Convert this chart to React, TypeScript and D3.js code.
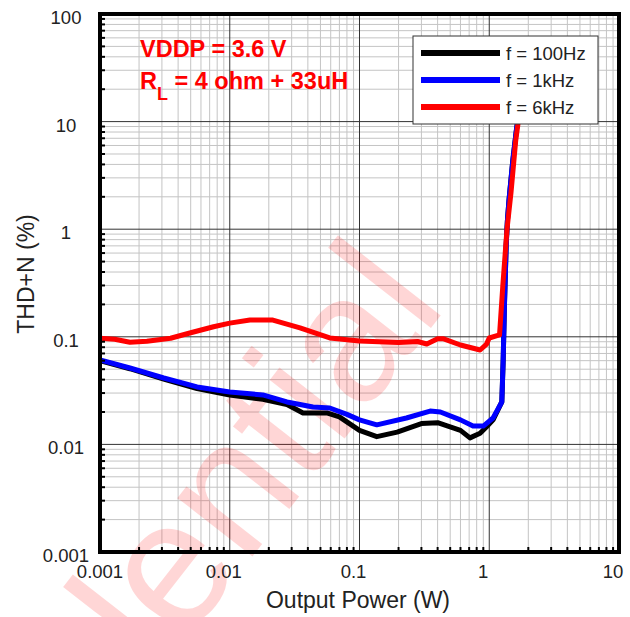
import React from 'react';
import * as d3 from 'd3';

const xTicks = [0.001, 0.01, 0.1, 1, 10];
const xTickLabels = ['0.001', '0.01', '0.1', '1', '10'];
const yTicks = [0.001, 0.01, 0.1, 1, 10, 100];
const yTickLabels = ['0.001', '0.01', '0.1', '1', '10', '100'];

const power100Hz = [0.001, 0.0017, 0.0031, 0.0056, 0.01, 0.018, 0.0276, 0.0367, 0.056, 0.07, 0.1, 0.136, 0.195, 0.3, 0.4, 0.6, 0.71, 0.85, 0.95, 1.07, 1.25, 1.28, 1.31, 1.35, 1.38, 1.42, 1.52, 1.62, 1.72, 1.85];
const thd100Hz = [0.06, 0.0505, 0.0405, 0.033, 0.0288, 0.0262, 0.0235, 0.0196, 0.0196, 0.018, 0.0135, 0.0118, 0.013, 0.0156, 0.0159, 0.0135, 0.0115, 0.0127, 0.0145, 0.0169, 0.0248, 0.06, 0.2, 0.7, 1.2, 1.87, 4.4, 8.4, 14, 25];

const power1kHz = [0.001, 0.0017, 0.0031, 0.0056, 0.01, 0.018, 0.0276, 0.0438, 0.059, 0.08, 0.1, 0.136, 0.23, 0.35, 0.42, 0.6, 0.75, 0.9, 1.07, 1.25, 1.28, 1.31, 1.35, 1.38, 1.42, 1.52, 1.62, 1.72, 1.85];
const thd1kHz = [0.061, 0.0513, 0.0414, 0.0342, 0.0307, 0.0288, 0.0248, 0.0223, 0.0218, 0.019, 0.0169, 0.0152, 0.0176, 0.0204, 0.02, 0.0169, 0.0148, 0.0148, 0.0176, 0.0248, 0.06, 0.2, 0.7, 1.2, 1.87, 4.4, 8.4, 14, 25];

const power6kHz = [0.001, 0.0013, 0.0017, 0.0023, 0.0035, 0.005, 0.0075, 0.01, 0.0143, 0.0215, 0.0348, 0.059, 0.1, 0.2, 0.28, 0.33, 0.4, 0.44, 0.6, 0.85, 0.95, 1.0, 1.2, 1.27, 1.37, 1.47, 1.6, 1.7, 1.85];
const thd6kHz = [0.097, 0.095, 0.089, 0.091, 0.097, 0.109, 0.124, 0.134, 0.143, 0.143, 0.121, 0.0975, 0.0914, 0.0885, 0.0905, 0.0857, 0.096, 0.096, 0.0839, 0.0754, 0.085, 0.0975, 0.104, 0.29, 1.0, 2.17, 6.7, 11.5, 25];

const seriesLabels = ['f = 100Hz', 'f = 1kHz', 'f = 6kHz'];
const seriesColors = ['#000000', '#0000ff', '#ff0000'];
const seriesPower = [power100Hz, power1kHz, power6kHz];
const seriesThd = [thd100Hz, thd1kHz, thd6kHz];

const W = 630, H = 617;
const L = 100, R = 619, T = 14, B = 552;
const FONT = '"Liberation Sans", Arial, Helvetica, sans-serif';

export default function App() {
  const x = d3.scaleLog().domain([0.001, 10]).range([L, R]);
  const y = d3.scaleLog().domain([0.001, 100]).range([B, T]);
  const line = d3.line<[number, number]>().x(d => x(d[0])).y(d => y(d[1]));

  const xMinor: number[] = [];
  for (let e = -3; e < 1; e++) for (let m = 2; m <= 9; m++) xMinor.push(m * Math.pow(10, e));
  const yMinor: number[] = [];
  for (let e = -3; e < 2; e++) for (let m = 2; m <= 9; m++) yMinor.push(m * Math.pow(10, e));

  return (
    <svg width={W} height={H} style={{ position: 'absolute', left: 0, top: 0 }} fontFamily={FONT}>
      <rect x={0} y={0} width={W} height={H} fill="#fff" />
      <defs>
        <clipPath id="plot">
          <rect x={L} y={T} width={R - L} height={B - T} />
        </clipPath>
      </defs>
      {/* minor grid */}
      {xMinor.map((v, i) => (
        <line key={'xm' + i} x1={x(v)} x2={x(v)} y1={T} y2={B} stroke="#c4c4c4" strokeWidth={1} />
      ))}
      {yMinor.map((v, i) => (
        <line key={'ym' + i} x1={L} x2={R} y1={y(v)} y2={y(v)} stroke="#c4c4c4" strokeWidth={1} />
      ))}
      {/* major grid */}
      {xTicks.map((v, i) => (
        <line key={'xM' + i} x1={x(v)} x2={x(v)} y1={T} y2={B} stroke="#333" strokeWidth={1} />
      ))}
      {yTicks.map((v, i) => (
        <line key={'yM' + i} x1={L} x2={R} y1={y(v)} y2={y(v)} stroke="#333" strokeWidth={1} />
      ))}
      {/* watermark */}
      <text
        transform="translate(448,306) rotate(-52)"
        textAnchor="end"
        fontSize={180}
        fill="rgba(255,0,0,0.16)"
        fontFamily={FONT}
      >
        Confidential
      </text>
      {/* curves */}
      <g clipPath="url(#plot)">
        {seriesPower.map((p, si) => (
          <path
            key={'s' + si}
            d={line(p.map((v, i) => [v, seriesThd[si][i]] as [number, number])) || ''}
            fill="none"
            stroke={seriesColors[si]}
            strokeWidth={5}
            strokeLinejoin="round"
            strokeLinecap="round"
          />
        ))}
      </g>
      {/* minor ticks inward */}
      {xMinor.map((v, i) => (
        <line key={'xt' + i} x1={x(v)} x2={x(v)} y1={B} y2={B - 5} stroke="#000" strokeWidth={2} />
      ))}
      {yMinor.map((v, i) => (
        <line key={'yt' + i} x1={L} x2={L + 5} y1={y(v)} y2={y(v)} stroke="#000" strokeWidth={2} />
      ))}
      {/* frame */}
      <rect x={L} y={T} width={R - L} height={B - T} fill="none" stroke="#000" strokeWidth={4} />
      {/* tick labels */}
      {xTicks.map((v, i) => (
        <text key={'xl' + i} x={x(v) - (i === 0 ? 0 : 6)} y={B + 26} textAnchor="middle" fontSize={18.5} fill="#222">
          {xTickLabels[i]}
        </text>
      ))}
      {yTicks.map((v, i) => (
        <text key={'yl' + i} x={66} y={y(v) + 10} textAnchor="middle" fontSize={18.5} fill="#222">
          {yTickLabels[i]}
        </text>
      ))}
      {/* axis titles */}
      <text x={358} y={608} textAnchor="middle" fontSize={23} fill="#222">Output Power (W)</text>
      <text transform="translate(34,274) rotate(-90)" textAnchor="middle" fontSize={23} fill="#222">THD+N (%)</text>
      {/* annotation */}
      <text x={140} y={57} fontSize={23.5} fontWeight="bold" fill="#ff0000">VDDP = 3.6 V</text>
      <text x={140} y={89} fontSize={23.5} fontWeight="bold" fill="#ff0000">
        R<tspan dy={11} fontSize={18}>L</tspan><tspan dy={-11}> = 4 ohm + 33uH</tspan>
      </text>
      {/* legend */}
      <rect x={413} y={36} width={185} height={88} fill="#fff" stroke="#333" strokeWidth={1} />
      {seriesLabels.map((s, i) => (
        <g key={'lg' + i}>
          <line x1={421} x2={500} y1={53 + i * 27} y2={53 + i * 27} stroke={seriesColors[i]} strokeWidth={6} />
          <text x={506} y={60 + i * 27} fontSize={18.5} fill="#222">{s}</text>
        </g>
      ))}
    </svg>
  );
}
